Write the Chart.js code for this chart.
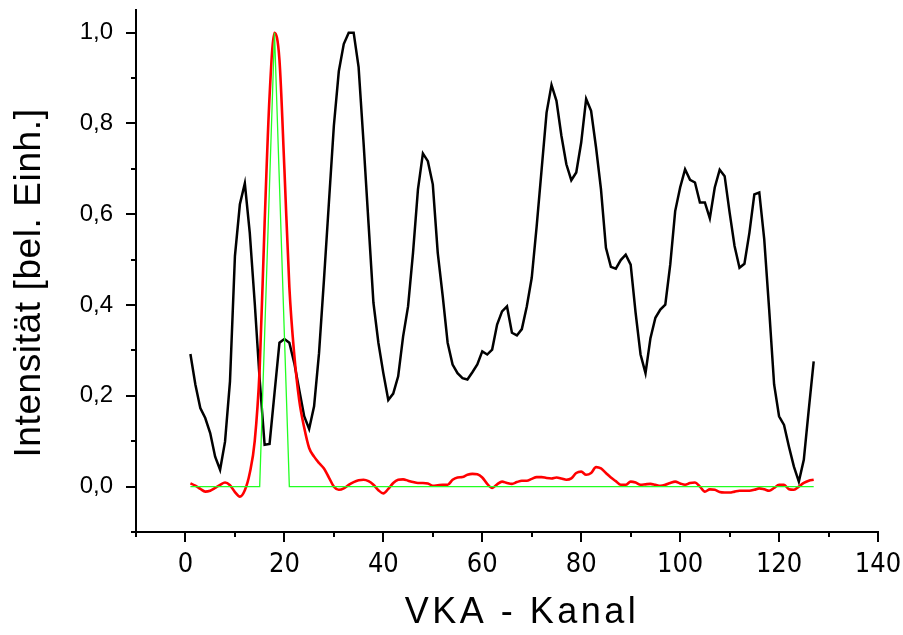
<!DOCTYPE html>
<html>
<head>
<meta charset="utf-8">
<script src="https://cdn.jsdelivr.net/npm/chart.js@4.4.1/dist/chart.umd.min.js"></script>
<style>
  html, body { margin: 0; padding: 0; background: #fff; }
  #wrap { width: 903px; height: 635px; }
</style>
</head>
<body>
<div id="wrap"><canvas id="c" width="903" height="635"></canvas></div>
<script>
// Measured spectrum (black), reconstructed line profile (red) and
// instrument function (green), one value per VKA channel 1..127.
const MEASURED = [
  0.292, 0.225, 0.173, 0.151, 0.118, 0.066, 0.037, 0.099, 0.232, 0.508,
  0.622, 0.668, 0.559, 0.405, 0.236, 0.092, 0.094, 0.206, 0.317, 0.325,
  0.317, 0.272, 0.213, 0.155, 0.127, 0.177, 0.294, 0.456, 0.626, 0.795,
  0.915, 0.975, 1.000, 1.000, 0.924, 0.758, 0.581, 0.405, 0.317, 0.250,
  0.191, 0.205, 0.243, 0.331, 0.397, 0.515, 0.655, 0.734, 0.717, 0.666,
  0.515, 0.420, 0.317, 0.269, 0.250, 0.239, 0.236, 0.252, 0.269, 0.298,
  0.291, 0.302, 0.357, 0.386, 0.397, 0.339, 0.333, 0.347, 0.397, 0.460,
  0.574, 0.699, 0.824, 0.885, 0.850, 0.773, 0.710, 0.675, 0.692, 0.758,
  0.854, 0.828, 0.747, 0.655, 0.526, 0.484, 0.480, 0.499, 0.511, 0.489,
  0.383, 0.291, 0.250, 0.327, 0.372, 0.390, 0.401, 0.489, 0.607, 0.659,
  0.699, 0.676, 0.670, 0.626, 0.626, 0.591, 0.659, 0.698, 0.684, 0.604,
  0.530, 0.482, 0.491, 0.559, 0.644, 0.648, 0.545, 0.390, 0.225, 0.155,
  0.136, 0.088, 0.044, 0.011, 0.059, 0.169, 0.276
];

const PROFILE = [
  0.007, 0.002, -0.005, -0.011, -0.009, -0.003, 0.004, 0.009, 0.003, -0.012,
  -0.022, -0.008, 0.030, 0.100, 0.260, 0.580, 0.860, 1.000, 0.940, 0.700,
  0.440, 0.290, 0.190, 0.130, 0.085, 0.066, 0.052, 0.040, 0.020, 0.000,
  -0.007, -0.004, 0.004, 0.010, 0.014, 0.015, 0.012, 0.004, -0.008, -0.015,
  -0.005, 0.008, 0.015, 0.016, 0.013, 0.010, 0.008, 0.008, 0.007, 0.002,
  0.003, 0.004, 0.004, 0.015, 0.020, 0.021, 0.026, 0.028, 0.027, 0.020,
  0.006, -0.003, 0.005, 0.011, 0.008, 0.006, 0.010, 0.013, 0.013, 0.017,
  0.021, 0.021, 0.019, 0.018, 0.020, 0.018, 0.015, 0.018, 0.030, 0.033,
  0.026, 0.030, 0.043, 0.040, 0.030, 0.020, 0.012, 0.004, 0.004, 0.011,
  0.009, 0.004, 0.005, 0.006, 0.004, 0.002, 0.004, 0.008, 0.011, 0.007,
  0.004, 0.008, 0.009, 0.000, -0.011, -0.006, -0.007, -0.012, -0.013, -0.013,
  -0.011, -0.009, -0.009, -0.009, -0.007, -0.004, -0.006, -0.009, -0.003, 0.004,
  0.004, -0.006, -0.007, 0.000, 0.008, 0.013, 0.015
];

const APPARATUS = [
  0, 0, 0, 0, 0, 0, 0, 0, 0, 0,
  0, 0, 0, 0, 0, 0.333, 0.667, 1.0, 0.667, 0.333,
  0, 0, 0, 0, 0, 0, 0, 0, 0, 0,
  0, 0, 0, 0, 0, 0, 0, 0, 0, 0,
  0, 0, 0, 0, 0, 0, 0, 0, 0, 0,
  0, 0, 0, 0, 0, 0, 0, 0, 0, 0,
  0, 0, 0, 0, 0, 0, 0, 0, 0, 0,
  0, 0, 0, 0, 0, 0, 0, 0, 0, 0,
  0, 0, 0, 0, 0, 0, 0, 0, 0, 0,
  0, 0, 0, 0, 0, 0, 0, 0, 0, 0,
  0, 0, 0, 0, 0, 0, 0, 0, 0, 0,
  0, 0, 0, 0, 0, 0, 0, 0, 0, 0,
  0, 0, 0, 0, 0, 0, 0
];

// Axis ticks (labels only on the major ones)
const X_TICKS = [-10, 0, 10, 20, 30, 40, 50, 60, 70, 80, 90, 100, 110, 120, 130, 140];
const X_MAJOR = [0, 20, 40, 60, 80, 100, 120, 140];
const Y_TICKS = [-0.1, 0, 0.1, 0.2, 0.3, 0.4, 0.5, 0.6, 0.7, 0.8, 0.9, 1.0];
const Y_MAJOR = [0, 0.2, 0.4, 0.6, 0.8, 1.0];

const X_TITLE = 'VKA - Kanal';
const Y_TITLE = 'Intensität [bel. Einh.]';

const isMajor = (list, v) => list.some(m => Math.abs(m - v) < 1e-9);
const toPoints = values => values.map((v, i) => ({ x: i + 1, y: v }));

// Outward tick marks, long on labelled values, short in between
const tickMarks = {
  id: 'tickMarks',
  afterDraw(chart) {
    const { ctx } = chart;
    const xs = chart.scales.x, ys = chart.scales.y;
    ctx.save();
    ctx.strokeStyle = '#000';
    ctx.lineWidth = 2;
    ctx.beginPath();
    xs.ticks.forEach(t => {
      const px = Math.round(xs.getPixelForValue(t.value));
      const len = isMajor(X_MAJOR, t.value) ? 10 : 5;
      ctx.moveTo(px, xs.top - 1);
      ctx.lineTo(px, xs.top + len);
    });
    ys.ticks.forEach(t => {
      const py = Math.round(ys.getPixelForValue(t.value));
      const len = isMajor(Y_MAJOR, t.value) ? 10 : 5;
      ctx.moveTo(ys.right + 1, py);
      ctx.lineTo(ys.right - len, py);
    });
    ctx.stroke();
    ctx.restore();
  }
};

// Spaced-out axis titles, each nudged a little off its axis centre
const TITLE_STYLE = {
  x: { spacing: '3.5px', dx: 15, dy: 0 },
  y: { spacing: '0.6px', dx: 0, dy: 12 }
};
const titleStyle = {
  id: 'titleStyle',
  beforeDraw(chart) {
    Object.keys(TITLE_STYLE).forEach(id => {
      const s = chart.scales[id];
      if (!s || s.__styledTitle) return;
      const orig = s.drawTitle;
      const st = TITLE_STYLE[id];
      s.drawTitle = function () {
        const ctx = this.ctx;
        ctx.save();
        ctx.letterSpacing = st.spacing;
        ctx.translate(st.dx, st.dy);
        orig.apply(this, arguments);
        ctx.restore();
      };
      s.__styledTitle = true;
    });
  }
};

Chart.defaults.font.family = '"Liberation Sans", Arial, sans-serif';
Chart.defaults.color = '#000';

new Chart(document.getElementById('c'), {
  type: 'line',
  data: {
    datasets: [
      {
        label: 'Apparatefunktion',
        data: toPoints(APPARATUS),
        borderColor: '#22ff22',
        borderWidth: 1.3,
        pointRadius: 0,
        tension: 0,
        order: 1
      },
      {
        label: 'Profil',
        data: toPoints(PROFILE),
        borderColor: '#ff0000',
        borderWidth: 2.6,
        pointRadius: 0,
        cubicInterpolationMode: 'monotone',
        order: 2
      },
      {
        label: 'Messung',
        data: toPoints(MEASURED),
        borderColor: '#000000',
        borderWidth: 2.5,
        pointRadius: 0,
        tension: 0,
        order: 3
      }
    ]
  },
  options: {
    responsive: false,
    animation: false,
    devicePixelRatio: 1,
    layout: { padding: { top: 10, right: 25, left: 0, bottom: 0 } },
    plugins: {
      legend: { display: false },
      tooltip: { enabled: false }
    },
    scales: {
      x: {
        type: 'linear',
        min: -10,
        max: 140,
        afterBuildTicks: s => { s.ticks = X_TICKS.map(v => ({ value: v })); },
        afterFit: s => { s.height = 103; },
        grid: { display: false, drawTicks: true, tickLength: 19, tickColor: 'rgba(0,0,0,0)' },
        border: { display: true, color: '#000', width: 2 },
        ticks: {
          autoSkip: false,
          maxRotation: 0,
          padding: 0,
          font: { family: '"Liberation Sans Narrow", "DejaVu Sans", sans-serif', weight: 'condensed', size: 27, lineHeight: 1 },
          color: '#000',
          callback: v => isMajor(X_MAJOR, v) ? String(v) : ''
        },
        title: {
          display: true,
          text: X_TITLE,
          font: { size: 36 },
          color: '#000',
          padding: { top: 0, bottom: 0 }
        }
      },
      y: {
        type: 'linear',
        min: -0.1,
        max: 1.05,
        afterBuildTicks: s => { s.ticks = Y_TICKS.map(v => ({ value: v })); },
        afterFit: s => { s.width = 136; },
        grid: { display: false, drawTicks: true, tickLength: 23, tickColor: 'rgba(0,0,0,0)' },
        border: { display: true, color: '#000', width: 2 },
        ticks: {
          autoSkip: false,
          padding: 0,
          font: { size: 24, lineHeight: 0.8 },
          color: '#000',
          callback: v => isMajor(Y_MAJOR, v) ? v.toFixed(1).replace('.', ',') : ''
        },
        title: {
          display: true,
          text: Y_TITLE,
          font: { size: 37 },
          color: '#000',
          padding: { top: 8, bottom: 0 }
        }
      }
    }
  },
  plugins: [tickMarks, titleStyle]
});
</script>
</body>
</html>
